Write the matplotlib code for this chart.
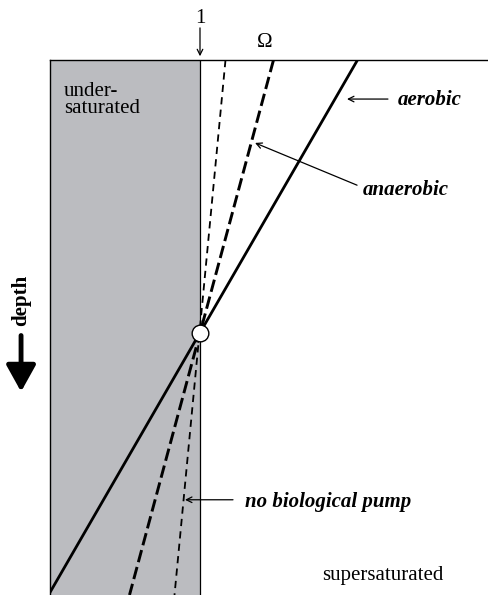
import matplotlib.pyplot as plt

plt.rcParams['font.family'] = ['Liberation Serif', 'DejaVu Serif']

# depth scale (0 = surface, 1 = bottom of the panel)
depth = [0.0, 1.0]
# saturation state at the surface and at the bottom of the panel
omega_aerobic = [2.05, -0.01]
omega_anaerobic = [1.49, 0.53]
omega_no_pump = [1.17, 0.83]
# saturation horizon (Omega = 1)
omega_sat = 1.0
z_horizon = 0.51

fig = plt.figure(figsize=(4.88, 5.95), dpi=100)
ax = fig.add_axes([50 / 488, 0, 438 / 488, 535 / 595])
ax.set_xlim(0, 438 / 150)
ax.set_ylim(1, 0)

ax.axvspan(0, omega_sat, color='#bbbcc0', lw=0, zorder=0)
ax.axvline(omega_sat, color='k', lw=0.9, zorder=1)

ax.plot(omega_aerobic, depth, color='k', lw=2.0, solid_capstyle='butt', zorder=2)
ax.plot(omega_anaerobic, depth, color='k', lw=2.1, dashes=(4.3, 1.7), zorder=2)
ax.plot(omega_no_pump, depth, color='k', lw=1.3, dashes=(4.0, 2.9), zorder=2)
ax.plot(omega_sat, z_horizon, 'o', ms=12, mfc='white', mec='k', mew=1, zorder=3)

for s in ['right', 'bottom']:
    ax.spines[s].set_visible(False)
for s in ['left', 'top']:
    ax.spines[s].set_linewidth(1.0)
ax.set_xticks([])
ax.set_yticks([])

fs = 15
arr = dict(arrowstyle='->', lw=0.9, color='k', shrinkA=0, shrinkB=0)

ax.text(1.0, -0.078, '1', fontsize=fs, ha='center', va='center', clip_on=False)
ax.annotate('', xy=(1.0, -0.007), xytext=(1.0, -0.06), arrowprops=arr, annotation_clip=False)
ax.text(1.433, -0.032, 'Ω', fontsize=fs, ha='center', va='center', clip_on=False)

ax.text(0.093, 0.042, 'under-\nsaturated', fontsize=fs, ha='left', va='top', linespacing=0.85)
ax.text(1.813, 0.963, 'supersaturated', fontsize=fs, ha='left', va='center')

ax.text(2.32, 0.075, 'aerobic', fontsize=fs, style='italic', weight='bold', ha='left', va='center')
ax.annotate('', xy=(1.98, 0.073), xytext=(2.253, 0.073), arrowprops=arr)

ax.text(2.087, 0.243, 'anaerobic', fontsize=fs, style='italic', weight='bold', ha='left', va='center')
ax.annotate('', xy=(1.367, 0.155), xytext=(2.047, 0.234), arrowprops=arr)

ax.text(1.30, 0.826, 'no biological pump', fontsize=fs, style='italic', weight='bold',
        ha='left', va='center')
ax.annotate('', xy=(0.90, 0.822), xytext=(1.22, 0.822), arrowprops=arr)

ax.text(-0.193, 0.449, 'depth', fontsize=fs, weight='bold', rotation=90,
        ha='center', va='center', clip_on=False)
ax.annotate('', xy=(-0.193, 0.62), xytext=(-0.193, 0.515),
            arrowprops=dict(arrowstyle='-|>,head_length=0.9,head_width=0.5', lw=3.5,
                            color='k', mutation_scale=18, shrinkA=0, shrinkB=0),
            annotation_clip=False)

fig.savefig('out.png', dpi=100)
